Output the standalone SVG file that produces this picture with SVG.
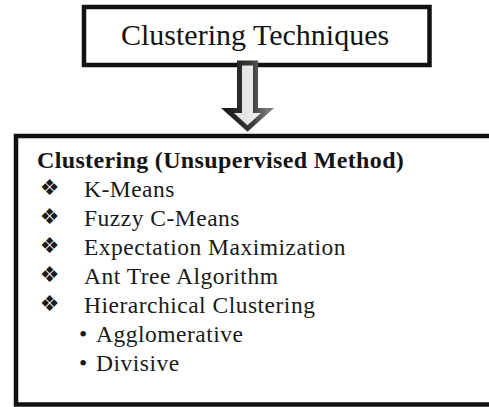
<svg xmlns="http://www.w3.org/2000/svg" width="489" height="407" viewBox="0 0 489 407">
  <defs>
    <style>
      .box { fill: #ffffff; stroke: #111111; stroke-width: 4.5; }
      .title { font-family: "Liberation Serif", "Times New Roman", serif; font-size: 30px; fill: #141414; }
      .head { font-family: "Liberation Serif", "Times New Roman", serif; font-size: 24px; font-weight: bold; letter-spacing: 0.35px; fill: #141414; }
      .item { font-family: "Liberation Serif", "Times New Roman", serif; font-size: 23.5px; letter-spacing: 0.5px; fill: #1a1a1a; }
      .mark { font-family: "DejaVu Sans", sans-serif; font-size: 22px; fill: #1a1a1a; text-anchor: middle; }
      .dot { font-family: "Liberation Serif", "Times New Roman", serif; font-size: 23.5px; fill: #1a1a1a; }
    </style>
    <linearGradient id="arrowShade" x1="0" y1="0" x2="1" y2="0">
      <stop offset="0" stop-color="#1a1a1a"/>
      <stop offset="0.6" stop-color="#3a3a3a"/>
      <stop offset="1" stop-color="#7a7a7a"/>
    </linearGradient>
    <linearGradient id="arrowCore" x1="0" y1="0" x2="1" y2="0">
      <stop offset="0" stop-color="#d8d8d8"/>
      <stop offset="1" stop-color="#f4f4f4"/>
    </linearGradient>
  </defs>

  <rect x="0" y="0" width="489" height="407" fill="#ffffff"/>

  <!-- top heading box -->
  <g id="techniques">
    <rect class="box" x="84" y="7" width="345.5" height="58"/>
    <text class="title" x="121" y="45">Clustering Techniques</text>
  </g>

  <!-- hollow block arrow between the two boxes -->
  <g id="connectors">
    <polygon points="239.5,63 255.5,63 255.5,110.5 267.5,110.5 247.5,128.5 227.5,110.5 239.5,110.5"
             fill="url(#arrowCore)" stroke="url(#arrowShade)" stroke-width="5" stroke-linejoin="miter"/>
  </g>

  <!-- list of methods; the frame runs on past the right edge -->
  <g id="methods">
    <path class="box" d="M 500,136 H 16 V 404.5 H 500"/>
    <text class="head" x="37" y="168">Clustering (Unsupervised Method)</text>

    <text class="mark" x="49.5" y="195">❖</text>
    <text class="item" x="84" y="197">K-Means</text>

    <text class="mark" x="49.5" y="224">❖</text>
    <text class="item" x="84" y="226">Fuzzy C-Means</text>

    <text class="mark" x="49.5" y="253">❖</text>
    <text class="item" x="84" y="255">Expectation Maximization</text>

    <text class="mark" x="49.5" y="282">❖</text>
    <text class="item" x="84" y="284">Ant Tree Algorithm</text>

    <text class="mark" x="49.5" y="311">❖</text>
    <text class="item" x="84" y="313">Hierarchical Clustering</text>

    <text class="dot" x="79" y="342">•</text>
    <text class="item" x="96" y="342">Agglomerative</text>

    <text class="dot" x="79" y="371">•</text>
    <text class="item" x="96" y="371">Divisive</text>
  </g>
</svg>
